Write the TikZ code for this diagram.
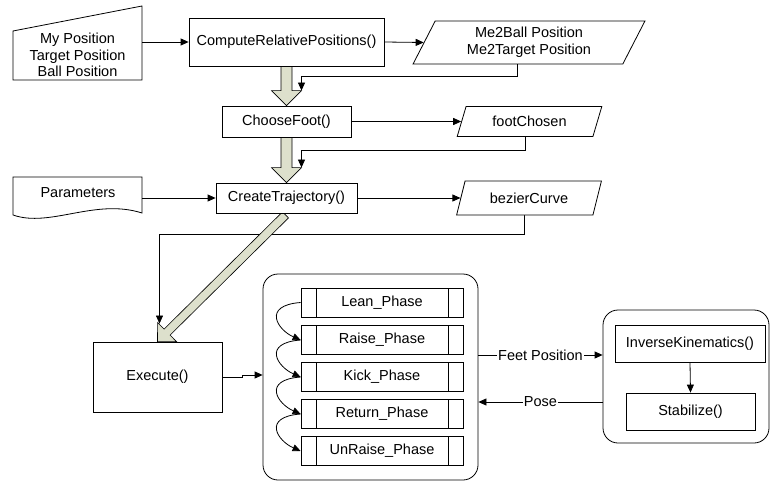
\documentclass[tikz,border=0pt]{standalone}
\usepackage{fontspec}
\setmainfont{Liberation Sans}
\usetikzlibrary{arrows.meta,calc,shapes.geometric,backgrounds}
\definecolor{blockfill}{RGB}{221,224,204}

% wide block arrow from #1 to the tip #2:
% #3 shaft half-width, #4 head half-width, #5 head length
\newcommand\blockarrow[5]{%
  \coordinate (ba0) at (#1);
  \coordinate (ba1) at (#2);
  \coordinate (bah) at ($(ba1)!#5!(ba0)$);
  \draw[blk] ($(ba0)!#3!90:(ba1)$) -- ($(bah)!#3!-90:(ba0)$) -- ($(bah)!#4!-90:(ba0)$)
    -- (ba1) -- ($(bah)!#4!90:(ba0)$) -- ($(bah)!#3!90:(ba0)$)
    -- ($(ba0)!#3!-90:(ba1)$) -- cycle;
}

\begin{document}
\begin{tikzpicture}[x=1pt, y=-1pt, line width=0.8pt,
  font=\fontsize{14.5}{16.5}\selectfont,
  arr/.style={-{Triangle[length=8pt,width=7pt]}},
  proc/.style={draw, fill=white, inner sep=0pt},
  data/.style={draw, fill=white, trapezium, trapezium left angle=64,
    trapezium right angle=116, trapezium stretches=true,
    inner sep=0pt, align=center},
  phase/.style={draw, fill=white, inner sep=0pt, minimum width=162pt,
    minimum height=29pt,
    path picture={\draw
      ([xshift=15pt]path picture bounding box.north west) --
      ([xshift=15pt]path picture bounding box.south west)
      ([xshift=-15pt]path picture bounding box.north east) --
      ([xshift=-15pt]path picture bounding box.south east);}},
  group/.style={draw, fill=white, rounded corners=15pt, inner sep=0pt},
  blk/.style={draw, fill=blockfill, line width=0.6pt, line join=miter},
  lbl/.style={fill=white, inner sep=1pt}]
\useasboundingbox (0,0) rectangle (770,481);

% manual input: positions
\draw[fill=white] (13,80) -- (142,80) -- (142,6) -- (13,31) -- cycle;
\node[align=center, inner sep=0pt] (inp) at (77.5,55)
  {My Position\\Target Position\\Ball Position};
\coordinate (inpout) at (142,42);

% document: parameters
\draw[fill=white] (13,215) -- (13,177) -- (142,177) -- (142,213)
  .. controls (95,198) and (50,228) .. (13,215) -- cycle;
\node (par) at (78,193) {Parameters};
\coordinate (parout) at (142,198);

% processes
\node[proc, minimum width=195pt, minimum height=48pt] (cmp) at (286.5,42) {ComputeRelativePositions()};
\node[proc, minimum width=129pt, minimum height=31pt] (cho) at (286.5,121.5) {ChooseFoot()};
\node[proc, minimum width=141pt, minimum height=30pt] (cre) at (286.5,198) {CreateTrajectory()};
\node[proc, minimum width=129pt, minimum height=70pt] (exe) at (157.5,377) {Execute()};

% data
\node[data, minimum width=232pt, minimum height=43pt] (me2) at (529,42.5) {Me2Ball Position\\Me2Target Position};
\node[data, minimum width=145pt, minimum height=30pt] (fc) at (529.5,121.5) {footChosen};
\node[data, minimum width=146pt, minimum height=34pt] (bz) at (529,198) {bezierCurve};

% phase group
\node[group, minimum width=215pt, minimum height=206pt] (grp) at (370.5,377) {};
\node[phase] (lean)  at (382,302.5) {Lean\_Phase};
\node[phase] (raise) at (382,340)   {Raise\_Phase};
\node[phase] (kick)  at (382,377)   {Kick\_Phase};
\node[phase] (ret)   at (382,414)   {Return\_Phase};
\node[phase] (unr)   at (382,451)   {UnRaise\_Phase};

% kinematics group
\node[group, minimum width=166pt, minimum height=133pt] (kin) at (686,376.5) {};
\node[proc, minimum width=150pt, minimum height=37pt] (ik) at (690,343.5) {InverseKinematics()};
\node[proc, minimum width=129pt, minimum height=37pt] (stab) at (690.5,411.5) {Stabilize()};

% connectors
\draw[arr] (inpout) -- (cmp.west);
\draw[arr] (cmp.east) -- (me2.left side);
\draw[arr] (cho.east) -- (fc.left side);
\draw[arr] (parout) -- (cre.west);
\draw[arr] (cre.east) -- (bz.left side);
\draw[arr] (me2.bottom side) -- ++(0,12) -| ($(cho.north)+(15,-15)$);
\draw[arr] (fc.bottom side) -- ++(0,14) -| ($(cre.north)+(15,-15)$);
\draw[arr] (exe.east) -- ++(20,0) -- ++(0,-2) -- (grp.west |- 0,375);
\foreach \a/\b in {lean/raise, raise/kick, kick/ret, ret/unr}
  \draw[arr] (\a.west) .. controls +(-39,3) and +(-23,-10) .. (\b.west);
\draw[arr] (grp.east |- 0,355) -- node[lbl] {Feet Position} (kin.west |- 0,355);
\draw[arr] (kin.west |- 0,402) -- node[lbl] {Pose} (grp.east |- 0,402);
\draw[arr] (ik.south) -- (stab.north);

% block arrows and the trajectory feedback, under the boxes
\begin{pgfonlayer}{background}
  \draw[arr] (bz.bottom side) -- ++(0,19) -| ($(exe.north)+(2,-18)$);
  \blockarrow{cmp.south}{cho.north}{5.5pt}{15pt}{15pt}
  \blockarrow{cho.south}{cre.north}{5.5pt}{15pt}{15pt}
  \blockarrow{$(cre.south)+(-1,1.5)$}{exe.north}{4.25pt}{13.5pt}{13.5pt}
\end{pgfonlayer}
\end{tikzpicture}
\end{document}
